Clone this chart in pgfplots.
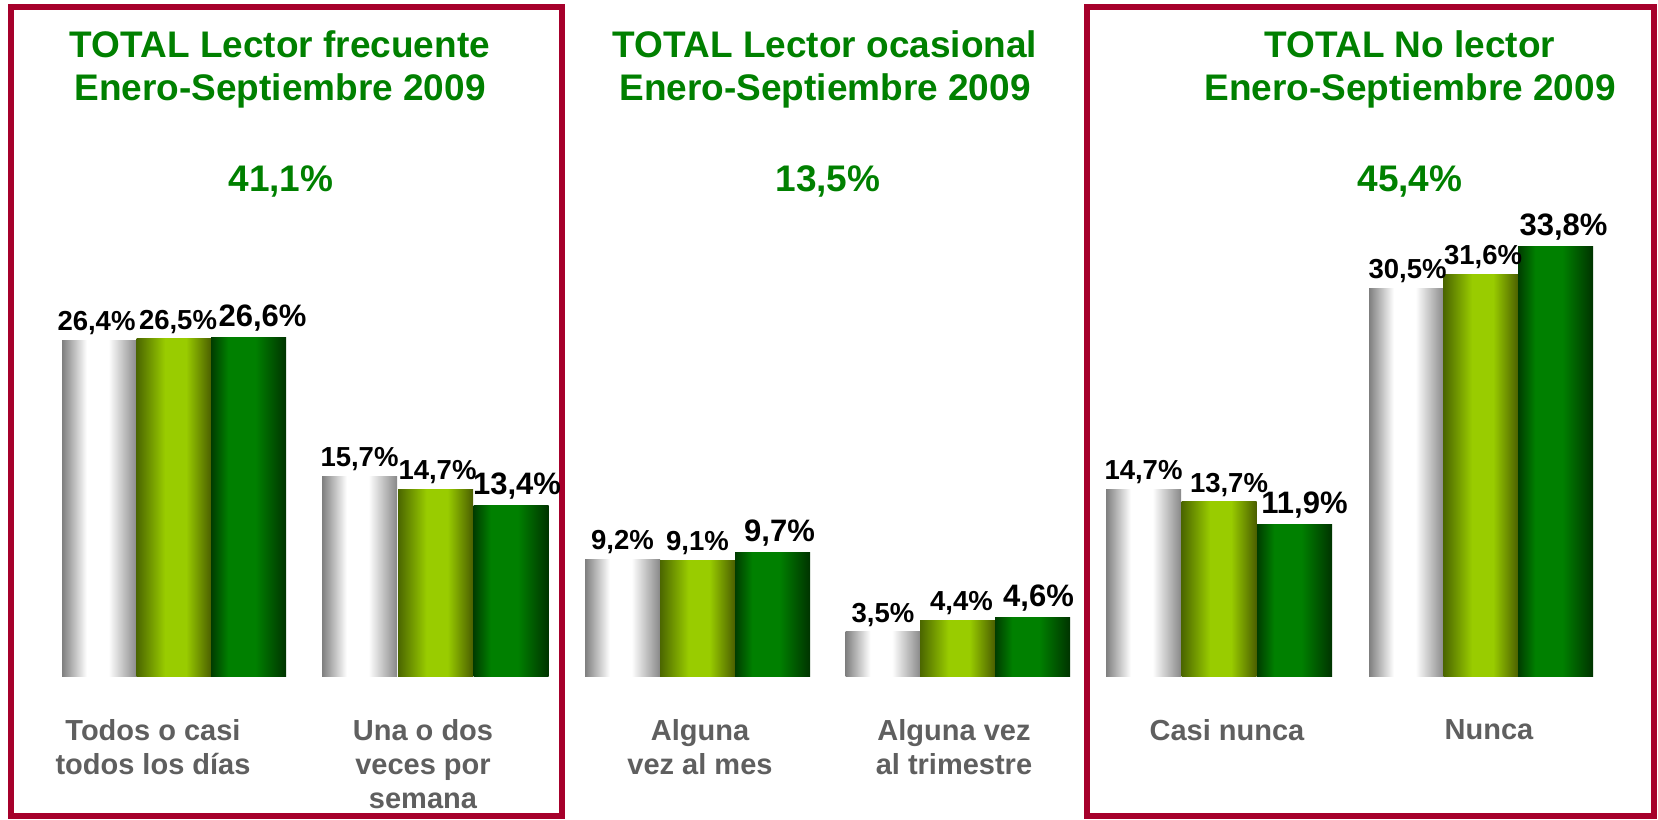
\documentclass[border=0pt]{standalone}
\usepackage{fontspec}
\setmainfont{Liberation Sans}
\usepackage{pgfplots}
\pgfplotsset{compat=1.18}
\definecolor{framered}{HTML}{A6002B}
\definecolor{titlegreen}{HTML}{008000}
\definecolor{catgrey}{HTML}{5F5F5F}
\definecolor{gA}{HTML}{7F7F7F}
\definecolor{gB}{HTML}{888888}
\definecolor{lA}{HTML}{4B6600}
\definecolor{lM}{HTML}{99CC00}
\definecolor{lB}{HTML}{4A5E00}
\definecolor{dA}{HTML}{003C00}
\definecolor{dM}{HTML}{008000}
\definecolor{dB}{HTML}{003300}
\pgfdeclarehorizontalshading{shgrey}{100bp}{color(0bp)=(gA); color(25bp)=(gA); color(41.5bp)=(white); color(56bp)=(white); color(75bp)=(gB); color(100bp)=(gB)}
\pgfdeclarehorizontalshading{shlime}{100bp}{color(0bp)=(lA); color(25bp)=(lA); color(44bp)=(lM); color(58bp)=(lM); color(75bp)=(lB); color(100bp)=(lB)}
\pgfdeclarehorizontalshading{shdark}{100bp}{color(0bp)=(dA); color(25bp)=(dA); color(36.5bp)=(dM); color(54.5bp)=(dM); color(75bp)=(dB); color(100bp)=(dB)}
\newcommand\titlefont{\fontsize{37}{43}\selectfont\bfseries}
\newcommand\catfont{\fontsize{29}{34}\selectfont\bfseries}
\newcommand\lblfont{\fontsize{27.5}{32}\selectfont\bfseries}
\newcommand\biglblfont{\fontsize{31}{36}\selectfont\bfseries}
\pgfplotsset{
  barbase/.style={ybar, bar width=75, bar shift=0pt, draw=none, shade},
  sgrey/.style={barbase, shading=shgrey, every node near coord/.append style={xshift=#1}},
  slime/.style={barbase, shading=shlime, every node near coord/.append style={xshift=#1}},
  sdark/.style={barbase, shading=shdark, every node near coord/.append style={xshift=#1, font=\biglblfont, inner ysep=6pt}},
}
\begin{document}
\begin{tikzpicture}
\begin{axis}[
  x=1pt, y=12.72pt,
  xmin=0, xmax=1658, ymin=0, ymax=53.14,
  axis line style={draw=none},
  ytick=\empty,
  xtick={153,423,700,954,1227,1489},
  xticklabels={{Todos o casi\\todos los días},{Una o dos\\veces por\\semana},{Alguna\\vez al mes},{Alguna vez\\al trimestre},{Casi nunca},{Nunca}},
  major tick length=0pt,
  xticklabel style={anchor=north, align=center, inner sep=0pt, yshift=-43pt, font=\catfont, text=catgrey},
  clip=false,
  point meta=explicit symbolic,
  nodes near coords,
  every node near coord/.append style={font=\lblfont, text=black, inner xsep=0pt, inner ysep=5pt, anchor=south},
]
% Todos o casi todos los dias
\addplot[sgrey=-3pt] coordinates {(99.5,26.4) [{26,4\%}]};
\addplot[slime=4pt] coordinates {(174,26.5) [{26,5\%}]};
\addplot[sdark=14pt] coordinates {(248.5,26.6) [{26,6\%}]};
% Una o dos veces por semana
\addplot[sgrey=0pt] coordinates {(359.5,15.7) [{15,7\%}]};
\addplot[slime=2pt] coordinates {(435.5,14.7) [{14,7\%}]};
\addplot[sdark=6pt] coordinates {(511,13.4) [{13,4\%}]};
% Alguna vez al mes
\addplot[sgrey=0pt] coordinates {(622.5,9.2) [{9,2\%}]};
\addplot[slime=0pt] coordinates {(697.5,9.1) [{9,1\%}]};
\addplot[sdark=7pt] coordinates {(772.5,9.7) [{9,7\%}]};
% Alguna vez al trimestre
\addplot[sgrey=0pt] coordinates {(883,3.5) [{3,5\%}]};
\addplot[slime=4pt] coordinates {(957.5,4.4) [{4,4\%}]};
\addplot[sdark=6pt] coordinates {(1032.5,4.6) [{4,6\%}]};
% Casi nunca
\addplot[sgrey=0pt] coordinates {(1143.5,14.7) [{14,7\%}]};
\addplot[slime=10pt] coordinates {(1219,13.7) [{13,7\%}]};
\addplot[sdark=10pt] coordinates {(1294.5,11.9) [{11,9\%}]};
% Nunca
\addplot[sgrey=1pt] coordinates {(1406.5,30.5) [{30,5\%}]};
\addplot[slime=2pt] coordinates {(1481,31.6) [{31,6\%}]};
\addplot[sdark=8pt] coordinates {(1555.5,33.8) [{33,8\%}]};
% frames
\draw[framered, line width=6pt] (axis cs:11,52.63) rectangle (axis cs:562,-11.01);
\draw[framered, line width=6pt] (axis cs:1087,52.63) rectangle (axis cs:1654,-11.01);
% titles
\node[anchor=base, font=\titlefont, text=titlegreen] at (axis cs:280,48.66) {TOTAL Lector frecuente};
\node[anchor=base, font=\titlefont, text=titlegreen] at (axis cs:280,45.28) {Enero-Septiembre 2009};
\node[anchor=base, font=\titlefont, text=titlegreen] at (axis cs:281,38.13) {41,1\%};
\node[anchor=base, font=\titlefont, text=titlegreen] at (axis cs:825,48.66) {TOTAL Lector ocasional};
\node[anchor=base, font=\titlefont, text=titlegreen] at (axis cs:825,45.28) {Enero-Septiembre 2009};
\node[anchor=base, font=\titlefont, text=titlegreen] at (axis cs:828,38.13) {13,5\%};
\node[anchor=base, font=\titlefont, text=titlegreen] at (axis cs:1410,48.66) {TOTAL No lector};
\node[anchor=base, font=\titlefont, text=titlegreen] at (axis cs:1410,45.28) {Enero-Septiembre 2009};
\node[anchor=base, font=\titlefont, text=titlegreen] at (axis cs:1410,38.13) {45,4\%};
% bounding box
\path (axis cs:0,-11.24) rectangle (axis cs:1658,53.14);
\end{axis}
\end{tikzpicture}
\end{document}
